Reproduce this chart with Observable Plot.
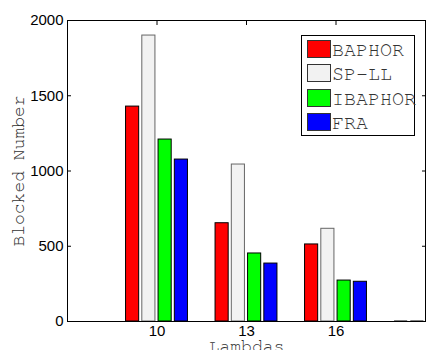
<!DOCTYPE html>
<html><head><meta charset="utf-8">
<script src="https://cdn.jsdelivr.net/npm/d3@7"></script>
<script src="https://cdn.jsdelivr.net/npm/@observablehq/plot@0.6"></script>
<style>
html,body{margin:0;padding:0;background:#fff;}
#wrap{position:relative;width:426px;height:350px;overflow:hidden;background:#fff;}
.legend{position:absolute;left:301px;top:35px;width:112px;height:99px;border:1px solid #000;background:#fff;font-family:"FreeMono","Nimbus Mono PS","Courier","Liberation Mono",monospace;font-size:20px;color:#333;}
.sw{position:absolute;left:5px;width:22px;height:16px;border:1px solid #333;}
.lt{position:absolute;left:30px;line-height:18px;white-space:nowrap;}
</style>
</head><body>
<div id="wrap"></div>
<script>
const lambdas = [10, 13, 16, 19];
const seriesNames = ["BAPHOR", "SP-LL", "IBAPHOR", "FRA"];
const baphor  = [1428, 653, 512, 0];
const spll    = [1900, 1043, 616, 0];
const ibaphor = [1209, 452, 272, 0];
const fra     = [1076, 385, 264, 0];
const tickLambdas = [10, 13, 16];
const yTicks = [0, 500, 1000, 1500, 2000];
const colors = ["#ff0000", "#f2f2f2", "#00ff00", "#0000ff"];
const xLabel = "Lambdas";
const yLabel = "Blocked Number";

const seriesValues = [baphor, spll, ibaphor, fra];
const rows = [];
seriesValues.forEach((vals, s) => vals.forEach((v, i) => rows.push({lambda: lambdas[i], series: seriesNames[s], s, value: v})));

const step = 0.545, bw = 0.44;
const bx1 = d => d.lambda + (d.s - 1.5) * step - bw / 2;
const bx2 = d => d.lambda + (d.s - 1.5) * step + bw / 2;
const mono = "FreeMono, 'Nimbus Mono PS', Courier, 'Liberation Mono', monospace";

const chart = Plot.plot({
  width: 426, height: 350,
  marginLeft: 67, marginRight: 1, marginTop: 20, marginBottom: 29,
  x: {type: "linear", domain: [7, 19]},
  y: {domain: [0, 2000]},
  color: {domain: seriesNames, range: colors},
  style: {fontFamily: "Liberation Sans, Arial, sans-serif", fontSize: "15px", background: "#fff", color: "#000"},
  marks: [
    Plot.rectY(rows, {filter: d => d.value > 0 && d.series !== "SP-LL", x1: bx1, x2: bx2, y1: 0, y2: "value", fill: "series", stroke: "#000", strokeWidth: 1}),
    Plot.rectY(rows, {filter: d => d.value > 0 && d.series === "SP-LL", x1: bx1, x2: bx2, y1: 0, y2: "value", fill: "series", stroke: "#666", strokeWidth: 1}),
    Plot.ruleY(rows, {filter: d => d.value === 0, y: "value", x1: bx1, x2: bx2, stroke: "#000", strokeWidth: 2, clip: true}),
    Plot.frame({stroke: "#000"}),
    Plot.axisY({ticks: yTicks, tickSize: -4, tickPadding: 8, tickFormat: d => String(d), label: null, fontSize: 15}),
    Plot.axisY({anchor: "right", ticks: yTicks, tickSize: -4, tickFormat: () => "", label: null}),
    Plot.axisX({anchor: "top", ticks: tickLambdas, tickSize: -4, tickFormat: () => "", label: null}),
    Plot.axisX({anchor: "bottom", ticks: tickLambdas, tickSize: 0, tickPadding: 4, tickFormat: d => String(d), label: null, fontSize: 15}),
    Plot.text([yLabel], {frameAnchor: "left", rotate: -90, dx: -49, textAnchor: "middle", lineAnchor: "middle", fontFamily: mono, fontSize: 18, fill: "#333"}),
    Plot.text([xLabel], {frameAnchor: "bottom", dy: 25, textAnchor: "middle", lineAnchor: "middle", fontFamily: mono, fontSize: 18, fill: "#333"})
  ]
});

const wrap = document.getElementById("wrap");
wrap.appendChild(chart);

const legend = document.createElement("div");
legend.className = "legend";
seriesNames.forEach((name, i) => {
  const sw = document.createElement("div");
  sw.className = "sw";
  sw.style.top = (4 + i * 24.4) + "px";
  sw.style.background = colors[i];
  legend.appendChild(sw);
  const t = document.createElement("div");
  t.className = "lt";
  t.style.top = (5 + i * 24.4) + "px";
  t.textContent = name;
  legend.appendChild(t);
});
wrap.appendChild(legend);
</script>
</body></html>
